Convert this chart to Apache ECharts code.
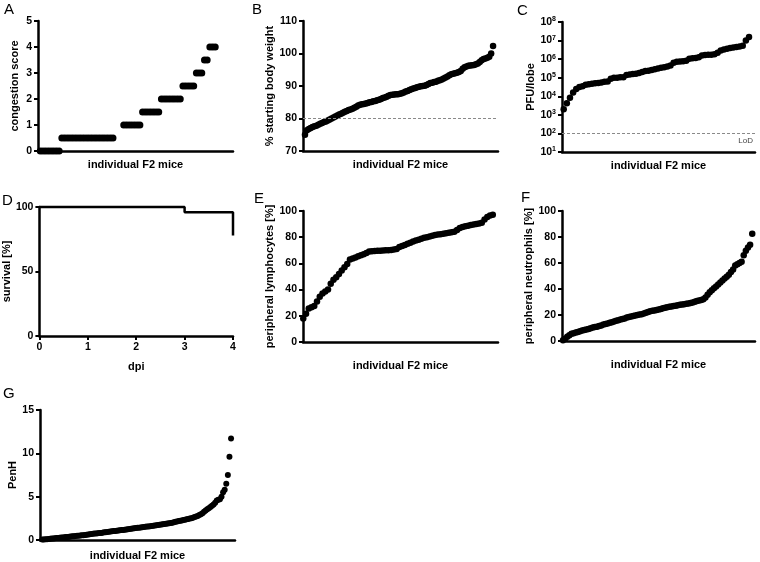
<!DOCTYPE html>
<html><head><meta charset="utf-8">
<script src="https://cdn.jsdelivr.net/npm/echarts@6.0.0/dist/echarts.min.js"></script>
<style>html,body{margin:0;padding:0;background:#fff}#c{width:760px;height:562px}</style>
</head><body><div id="c"></div>
<script>
// ---------- DATA ----------
// A: congestion score per F2 mouse (null = empty slot in the ranking)
const congestionScore = [0,0,0,0,0,0,0,0,
  0.5,0.5,0.5,0.5,0.5,0.5,0.5,0.5,0.5,0.5,0.5,0.5,0.5,0.5,0.5,0.5,0.5,0.5,0.5,0.5,
  null,null,null,
  1,1,1,1,1,1,1,
  1.5,1.5,1.5,1.5,1.5,1.5,1.5,
  2,2,2,2,2,2,2,2,
  2.5,2.5,2.5,2.5,2.5,
  3,3,3,
  3.5,3.5,
  4,4,4];
// B: % starting body weight
const bodyWeight = [75.0,76.4,76.8,77.1,77.4,77.6,77.8,78.1,78.4,78.6,78.9,79.1,79.4,79.7,80.0,80.3,80.6,80.9,81.2,81.5,
  81.8,82.1,82.3,82.6,82.8,83.0,83.3,83.6,84.0,84.2,84.4,84.5,84.6,84.8,85.0,85.1,85.3,85.4,85.6,85.8,
  86.0,86.3,86.5,86.7,87.0,87.2,87.3,87.4,87.5,87.5,87.6,87.8,88.0,88.3,88.5,88.8,89.0,89.2,89.4,89.6,
  89.8,89.9,90.0,90.1,90.3,90.6,90.9,91.0,91.2,91.3,91.6,91.8,92.0,92.3,92.6,92.9,93.3,93.6,93.8,93.9,
  94.1,94.3,94.6,95.3,95.8,96.0,96.2,96.3,96.4,96.5,96.7,96.9,97.4,97.9,98.3,98.5,98.7,99.0,100.0,102.3];
const bodyWeightCutoff = 80;
// C: PFU per lobe
const pfuPerLobe = [2000,4200,8300,16000,25000,32000,35000,42000,45000,48000,
  50000,52000,56000,60000,63000,89000,100000,100000,105000,107000,
  141000,151000,158000,166000,182000,200000,229000,240000,263000,288000,
  316000,339000,363000,398000,457000,631000,724000,741000,759000,832000,
  1050000,1120000,1150000,1260000,1580000,1660000,1700000,1740000,1820000,2240000,
  2880000,3310000,3630000,3980000,4270000,4570000,4790000,5250000,10000000,15800000];
const pfuLoD = 100;
// D: survival curve
const dpiDays = [0,3,4];
const survivalPct = [100,96,78];
// E: peripheral lymphocytes [%]
const lymphocytes = [18.0,21.5,25.5,26.5,27.5,31.0,34.5,37.0,38.5,40.0,
  44.5,47.5,49.5,52.0,54.5,57.0,59.5,63.0,63.8,64.5,
  65.5,66.3,67.0,68.0,69.0,69.2,69.4,69.6,69.7,69.9,
  70.0,70.1,70.3,70.6,71.0,72.5,73.3,74.0,75.0,75.8,
  76.8,77.5,78.0,78.8,79.5,80.0,80.6,81.2,81.6,82.0,
  82.3,82.7,83.0,83.4,83.8,84.2,85.5,87.0,87.8,88.3,
  88.8,89.3,89.7,90.1,90.5,91.0,93.5,95.5,96.5,97.2];
// F: peripheral neutrophils [%]
const neutrophils = [0.5,1.8,3.3,4.5,5.5,6.0,6.5,7.0,7.5,8.0,
  8.4,8.8,9.3,9.8,10.3,10.7,11.0,11.5,12.0,12.6,
  13.0,13.5,14.0,14.5,15.0,15.5,16.0,16.5,17.0,17.4,
  18.0,18.5,18.8,19.2,19.6,20.0,20.3,20.6,21.2,21.8,
  22.3,22.8,23.2,23.5,23.8,24.2,24.7,25.2,25.6,26.0,
  26.3,26.6,26.9,27.2,27.5,27.8,28.0,28.3,28.6,28.9,
  29.2,29.6,30.2,30.8,31.2,31.5,32.2,33.5,35.5,37.5,
  39.0,40.5,42.0,43.5,45.0,46.5,48.0,49.5,51.0,53.0,
  55.0,58.0,59.0,60.0,61.0,66.0,69.5,72.0,74.0,82.5];
// G: PenH
const penH = [0.05,0.07,0.09,0.10,0.12,0.14,0.16,0.18,0.20,0.22,
  0.24,0.26,0.28,0.30,0.32,0.34,0.36,0.38,0.40,0.42,
  0.44,0.46,0.48,0.50,0.52,0.54,0.56,0.58,0.60,0.63,
  0.66,0.69,0.72,0.74,0.76,0.78,0.80,0.82,0.85,0.88,
  0.90,0.93,0.96,0.99,1.01,1.03,1.05,1.08,1.10,1.12,
  1.14,1.16,1.19,1.22,1.25,1.28,1.30,1.32,1.35,1.38,
  1.40,1.42,1.45,1.47,1.50,1.52,1.55,1.57,1.59,1.61,
  1.63,1.66,1.69,1.72,1.75,1.78,1.81,1.84,1.87,1.90,
  1.93,1.96,2.00,2.05,2.10,2.14,2.18,2.22,2.26,2.30,
  2.34,2.38,2.42,2.47,2.52,2.58,2.64,2.70,2.78,2.88,
  2.98,3.10,3.25,3.40,3.55,3.65,3.80,3.95,4.10,4.30,
  4.55,4.65,4.70,5.00,5.50,5.80,6.50,7.50,9.60,11.7];

const panelLetters = ['A','B','C','D','E','F','G'];
const xName = 'individual F2 mice';

// ---------- LAYOUT ----------
const FONT = '"Liberation Sans", Arial, sans-serif';
const grids = [
  {left:38, top:21, width:195, height:130},
  {left:303, top:21, width:195, height:130},
  {left:562, top:22, width:193, height:130},
  {left:38, top:207, width:195, height:129},
  {left:303, top:211, width:195, height:131},
  {left:562, top:211, width:193, height:130},
  {left:40, top:410, width:195, height:130}
];
const letterPos = [[4,2],[252,2],[517,3],[2,193],[254,191],[521,190],[3,386]];

function ranked(arr){ const out=[]; arr.forEach((v,i)=>{ if(v!==null) out.push([i,v]); }); return out; }

const axisLine = {show:true, onZero:false, lineStyle:{color:'#000', width:2.5}};
const tickLabel = {fontFamily:FONT, fontWeight:'bold', fontSize:10.5, color:'#000', margin:6};
const nameStyle = {fontFamily:FONT, fontWeight:'bold', fontSize:11, color:'#000'};
function xAxisIdx(gi, min, max, name, gap){
  return {type:'value', gridIndex:gi, min:min, max:max, axisLine:axisLine,
    axisTick:{show:false}, axisLabel:{show:false}, splitLine:{show:false},
    name:name, nameLocation:'middle', nameGap:gap,
    nameTextStyle:Object.assign({verticalAlign:'top'}, nameStyle)};
}
function yAxisVal(gi, min, max, interval, name, gap){
  return {type:'value', gridIndex:gi, min:min, max:max, interval:interval,
    axisLine:axisLine, axisTick:{show:true, length:4, lineStyle:{color:'#000', width:2}},
    axisLabel:tickLabel, splitLine:{show:false},
    name:name, nameLocation:'middle', nameGap:gap, nameTextStyle:nameStyle};
}
function dots(gi, data, size, extra){
  return Object.assign({type:'scatter', xAxisIndex:gi, yAxisIndex:gi, data:data,
    symbol:'circle', symbolSize:size, clip:false, itemStyle:{color:'#000', opacity:1}, z:3}, extra||{});
}
function cutLine(val, label){
  return {silent:true, symbol:'none', animation:false,
    lineStyle:{color:'#8a8a8a', type:[3,2], width:1},
    label:label ? {show:true, position:'insideEndBottom', formatter:label, fontFamily:FONT, fontSize:8, color:'#444', distance:[2,3]} : {show:false},
    data:[{yAxis:val}]};
}

const yC = {type:'log', logBase:10, gridIndex:2, min:10, max:100000000,
  axisLine:axisLine, axisTick:{show:true, length:4, lineStyle:{color:'#000', width:2}},
  axisLabel:{margin:6, formatter:function(v){ return '{b|10}{s|' + Math.round(Math.log10(v)) + '}'; },
    rich:{b:{fontFamily:FONT, fontWeight:'bold', fontSize:10.5, color:'#000'},
          s:{fontFamily:FONT, fontWeight:'bold', fontSize:7, color:'#000', verticalAlign:'top', padding:[0,0,5,0]}}},
  splitLine:{show:false}, minorTick:{show:false},
  name:'PFU/lobe', nameLocation:'middle', nameGap:26, nameTextStyle:nameStyle};

const xD = {type:'value', gridIndex:3, min:0, max:4, interval:1, axisLine:axisLine,
  axisTick:{show:true, length:4, lineStyle:{color:'#000', width:2}},
  axisLabel:tickLabel, splitLine:{show:false}, name:'dpi', nameLocation:'middle', nameGap:25,
  nameTextStyle:Object.assign({verticalAlign:'top'}, nameStyle)};

const option = {
  backgroundColor:'#fff',
  animation:false,
  title: panelLetters.map((t,i)=>({text:t, left:letterPos[i][0], top:letterPos[i][1], padding:0,
    textStyle:{fontFamily:FONT, fontWeight:'normal', fontSize:15, color:'#000'}})),
  grid: grids,
  xAxis: [
    xAxisIdx(0, -0.86, 71.6, xName, 8),
    xAxisIdx(1, -1.05, 101.6, xName, 8),
    xAxisIdx(2, -0.54, 60.9, xName, 8),
    xD,
    xAxisIdx(4, -0.1, 70.9, xName, 18),
    xAxisIdx(5, -0.47, 90.3, xName, 18),
    xAxisIdx(6, -1.4, 121.5, xName, 10)
  ],
  yAxis: [
    yAxisVal(0, 0, 5, 1, 'congestion score', 18),
    yAxisVal(1, 70, 110, 10, '% starting body weight', 24),
    yC,
    yAxisVal(3, 0, 100, 50, 'survival [%]', 17),
    yAxisVal(4, 0, 100, 20, 'peripheral lymphocytes [%]', 20),
    yAxisVal(5, 0, 100, 20, 'peripheral neutrophils [%]', 23),
    yAxisVal(6, 0, 15, 5, 'PenH', 21)
  ],
  series: [
    dots(0, ranked(congestionScore), 7),
    dots(1, ranked(bodyWeight), 6.5, {markLine: cutLine(bodyWeightCutoff)}),
    dots(2, ranked(pfuPerLobe), 6.5, {markLine: cutLine(pfuLoD, 'LoD')}),
    {type:'line', xAxisIndex:3, yAxisIndex:3, step:'end', showSymbol:false, clip:false,
      data: dpiDays.map((d,i)=>[d, survivalPct[i]]), lineStyle:{color:'#000', width:2.5}, z:3},
    dots(4, ranked(lymphocytes), 6.5),
    dots(5, ranked(neutrophils), 6.5),
    dots(6, ranked(penH), 6)
  ]
};
const chart = echarts.init(document.getElementById('c'));
chart.setOption(option);
</script>
</body></html>
